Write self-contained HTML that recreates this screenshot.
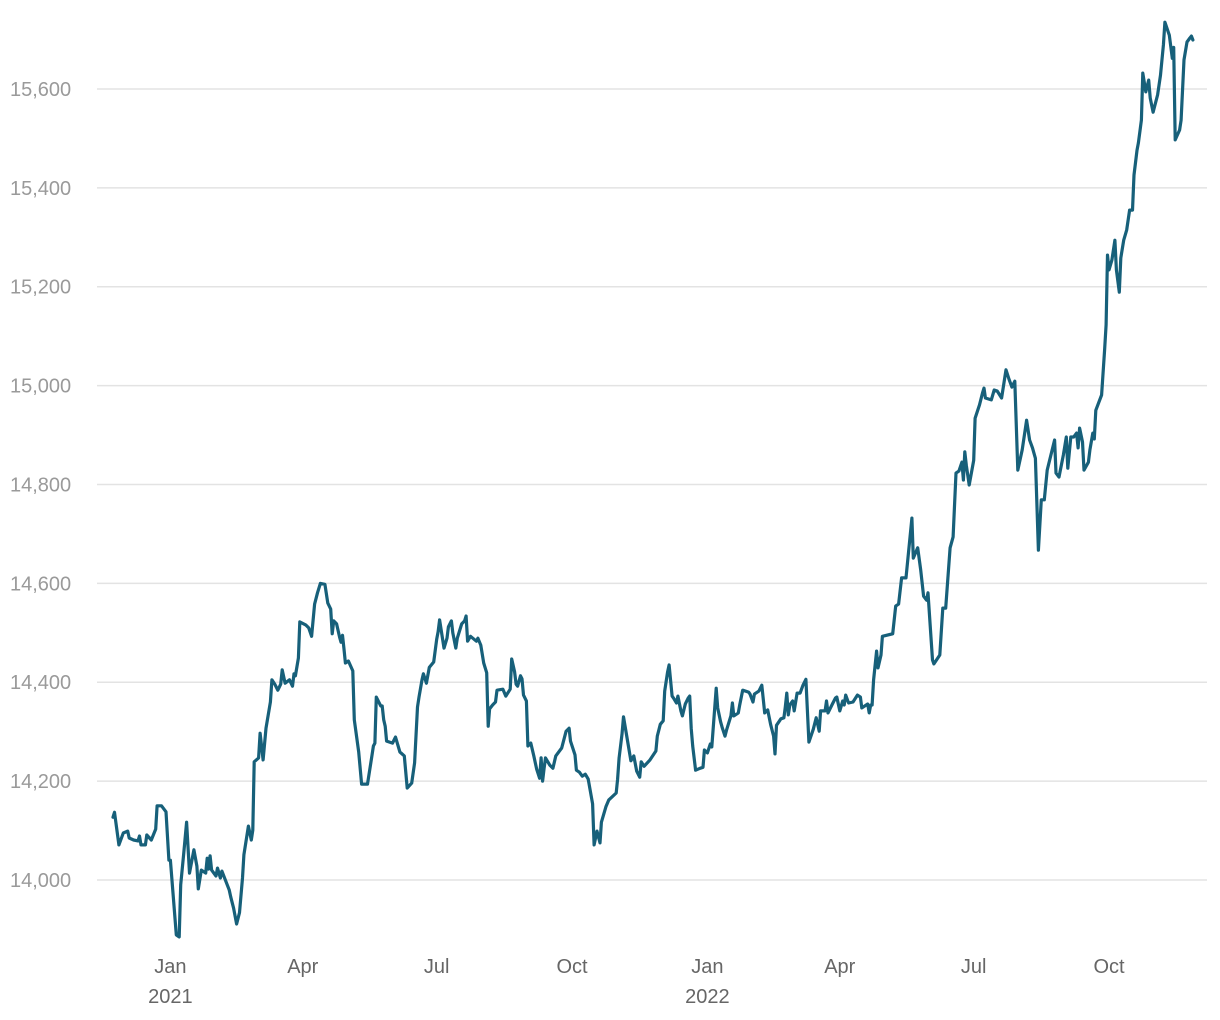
<!DOCTYPE html>
<html><head><meta charset="utf-8"><style>
html,body{margin:0;padding:0;background:#fff;}
svg{display:block;font-family:"Liberation Sans",sans-serif;}
</style></head><body>
<svg id="chart" width="1220" height="1020" xmlns="http://www.w3.org/2000/svg">
<g id="grid"></g>
<g id="yaxis"></g>
<g id="xaxis"></g>
<g id="series"></g>
</svg>
<script>
// days since 2020-11-22
const days = [0,1,4,7,10,11,14,17,18,19,22,23,26,29,30,33,36,38,39,43,45,46,48,50,52,55,57,58,60,63,64,65,66,67,70,71,73,74,79,80,82,84,86,88,89,92,94,95,96,99,100,102,104,107,108,110,112,114,115,117,120,122,123,124,126,127,131,133,135,137,139,141,144,146,148,149,150,152,154,155,156,157,158,160,163,164,167,169,173,176,177,178,179,182,183,184,185,186,190,192,195,198,200,203,205,207,208,210,211,213,215,218,220,221,222,225,227,228,230,231,233,234,237,239,240,241,243,247,248,250,252,254,255,256,258,260,261,265,267,270,271,273,274,275,277,278,279,281,282,284,286,288,290,291,292,293,294,297,299,301,305,308,310,311,314,315,317,319,321,323,326,327,329,331,332,335,337,342,343,344,346,347,352,354,356,358,359,361,365,369,370,372,374,375,377,378,380,381,383,384,386,387,389,391,392,393,394,396,399,401,402,404,406,407,410,411,413,414,416,417,420,421,422,425,426,428,432,433,435,436,439,441,443,445,447,449,450,451,454,456,457,458,459,460,462,463,465,467,469,471,473,476,478,480,481,484,485,486,489,491,492,494,496,497,498,500,503,506,508,509,513,514,515,516,517,519,520,522,523,530,532,534,536,539,543,544,547,549,551,553,554,557,558,562,564,566,569,571,573,575,577,578,579,580,582,585,586,589,591,592,593,597,599,601,604,607,609,611,613,615,618,621,623,625,627,629,631,633,635,640,641,643,646,648,649,651,653,655,656,657,659,660,663,664,666,667,668,672,674,675,676,677,679,681,682,684,685,687,689,691,693,694,696,697,699,700,702,704,705,707,710,712,714,715,718,720,721,722,725,726,728,730,732,733,734];
const values = [14127,14137,14071,14095,14099,14085,14081,14079,14089,14071,14071,14091,14081,14103,14150,14150,14138,14040,14040,13889,13885,13990,14051,14117,14014,14061,14028,13982,14020,14014,14044,14022,14049,14020,14008,14024,14004,14018,13980,13966,13943,13911,13934,14004,14051,14109,14081,14101,14239,14247,14297,14243,14307,14360,14405,14396,14384,14396,14425,14398,14405,14392,14417,14413,14449,14522,14516,14510,14493,14558,14581,14600,14598,14560,14548,14498,14524,14518,14491,14481,14495,14467,14439,14443,14423,14324,14259,14194,14194,14251,14271,14277,14370,14352,14352,14324,14311,14281,14277,14289,14259,14251,14186,14196,14237,14350,14370,14405,14417,14398,14430,14441,14487,14502,14526,14469,14489,14512,14524,14500,14469,14489,14518,14524,14534,14483,14493,14483,14489,14475,14439,14419,14311,14346,14354,14360,14384,14386,14372,14386,14447,14421,14396,14392,14413,14407,14374,14362,14271,14277,14251,14224,14206,14247,14200,14226,14247,14232,14226,14251,14267,14301,14307,14281,14253,14222,14218,14210,14214,14204,14154,14071,14099,14075,14117,14148,14162,14176,14204,14247,14295,14330,14241,14251,14220,14208,14239,14230,14243,14261,14291,14315,14322,14382,14421,14435,14372,14368,14358,14372,14342,14332,14356,14368,14372,14307,14271,14222,14226,14228,14263,14257,14275,14269,14388,14348,14320,14309,14291,14303,14332,14358,14332,14338,14354,14384,14380,14376,14360,14376,14382,14394,14338,14344,14315,14291,14255,14313,14326,14328,14350,14378,14334,14354,14362,14342,14378,14378,14394,14406,14279,14305,14328,14301,14342,14342,14362,14338,14356,14368,14370,14342,14362,14354,14374,14358,14360,14374,14370,14348,14356,14338,14354,14354,14405,14463,14429,14455,14493,14498,14554,14558,14611,14611,14732,14651,14672,14627,14574,14566,14581,14445,14437,14455,14550,14550,14672,14694,14823,14827,14845,14809,14866,14839,14799,14849,14934,14961,14985,14995,14975,14971,14991,14989,14975,15032,15013,14997,15009,14829,14870,14930,14890,14874,14853,14667,14769,14769,14829,14890,14823,14815,14860,14896,14833,14896,14896,14904,14874,14914,14886,14829,14845,14870,14904,14892,14950,14981,15072,15123,15264,15234,15254,15294,15234,15189,15258,15294,15315,15355,15355,15426,15476,15491,15537,15632,15594,15618,15582,15553,15588,15628,15689,15735,15709,15662,15684,15497,15517,15537,15659,15695,15703,15707,15699];
const yTicks = [14000,14200,14400,14600,14800,15000,15200,15400,15600];
const yTickLabels = ["14,000","14,200","14,400","14,600","14,800","15,000","15,200","15,400","15,600"];
const xTickDays = [39,129,220,312,404,494,585,677];
const xTickLabels = ["Jan","Apr","Jul","Oct","Jan","Apr","Jul","Oct"];
const xTickYears = ["2021","","","","2022","","",""];

const NS="http://www.w3.org/2000/svg";
function xS(d){return 113 + d*1.4712;}
function yS(v){return 880 - (v-14000)*0.4944;}
function mk(tag,attrs,parent){const e=document.createElementNS(NS,tag);for(const k in attrs)e.setAttribute(k,attrs[k]);parent.appendChild(e);return e;}
const grid=document.getElementById('grid'),ya=document.getElementById('yaxis'),xa=document.getElementById('xaxis'),se=document.getElementById('series');
yTicks.forEach((t,i)=>{
  const l=mk('line',{x1:97,x2:1207,y1:yS(t),y2:yS(t),stroke:'#e3e3e3','stroke-width':1.5},grid);
  
  
  const tx=mk('text',{x:10,y:yS(t)+7,'font-size':20,fill:'#9a9a9a'},ya);
  tx.textContent=yTickLabels[i];
  
  
});
xTickDays.forEach((d,i)=>{
  const tx=mk('text',{x:xS(d),y:973,'font-size':20,fill:'#666','text-anchor':'middle'},xa);
  tx.textContent=xTickLabels[i];
  
  
  if(xTickYears[i]){
    const ty=mk('text',{x:xS(d),y:1003,'font-size':20,fill:'#666','text-anchor':'middle'},xa);
    ty.textContent=xTickYears[i];
    
    
  }
});
let dstr=days.map((d,i)=>(i?'L':'M')+xS(d).toFixed(1)+','+yS(values[i]).toFixed(1)).join('');
const p=mk('path',{d:dstr,fill:'none',stroke:'#17607a','stroke-width':3.2,'stroke-linejoin':'round','stroke-linecap':'round'},se);


</script>
</body></html>
